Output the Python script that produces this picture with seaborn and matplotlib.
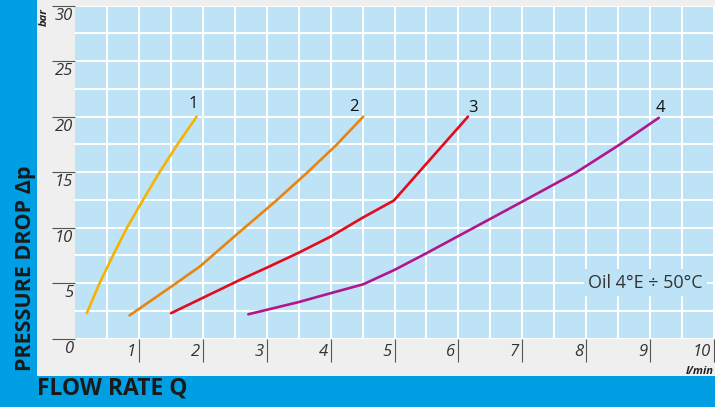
import numpy as np
import pandas as pd
import matplotlib.pyplot as plt
import matplotlib.transforms as mtransforms
from matplotlib.patches import Rectangle
import seaborn as sns

sns.set_theme(style='white')
plt.rcParams['font.family'] = ['Open Sans', 'DejaVu Sans']

# 数据：流量 Q (l/min) 与压降 Δp (bar)
curve_names = ['1', '2', '3', '4']
q1 = [0.18, 0.38, 0.59, 0.81, 1.06, 1.32, 1.60, 1.90]
p1 = [2.3, 5.0, 7.5, 10.0, 12.5, 15.0, 17.5, 20.0]
q2 = [0.85, 1.48, 1.95, 2.55, 3.12, 3.62, 4.08, 4.51]
p2 = [2.1, 4.6, 6.5, 9.5, 12.3, 14.9, 17.4, 20.0]
q3 = [1.50, 2.58, 3.00, 3.50, 4.00, 4.50, 4.99, 6.15]
p3 = [2.3, 5.3, 6.4, 7.75, 9.2, 10.9, 12.45, 20.0]
q4 = [2.71, 3.50, 4.00, 4.51, 5.00, 5.50, 6.34, 7.05, 7.85, 8.53, 9.14]
p4 = [2.2, 3.3, 4.1, 4.9, 6.2, 7.7, 10.3, 12.5, 15.0, 17.5, 19.9]
label_pos_q = [1.84, 4.37, 6.23, 9.17]
label_pos_p = [21.1, 20.9, 20.75, 20.75]
x_ticks = [1, 2, 3, 4, 5, 6, 7, 8, 9, 10]
y_ticks = [0, 5, 10, 15, 20, 25, 30]
note = 'Oil 4°E ÷ 50°C'

colors = ['#f4b400', '#e9850f', '#e30b1c', '#b2168b']
bg_blue = '#bee3f7'
frame_blue = '#009fe3'

df = pd.concat([
    pd.DataFrame({'Q': q, 'dp': p, 'curve': n})
    for q, p, n in zip([q1, q2, q3, q4], [p1, p2, p3, p4], curve_names)
])

fig = plt.figure(figsize=(7.15, 4.07), dpi=100)
fig.patch.set_facecolor(frame_blue)
W, H = 715, 407
fig.add_artist(Rectangle((37 / W, 1 - 376 / H), 1 - 37 / W, 376 / H,
                         transform=fig.transFigure, facecolor='#efefef',
                         edgecolor='none', zorder=-1))

ax = fig.add_axes([75.3 / W, 1 - 338.7 / H, 639.7 / W, 333 / H])
ax.set_facecolor(bg_blue)

sns.lineplot(data=df, x='Q', y='dp', hue='curve', palette=colors,
             sort=False, estimator=None, units='curve', legend=False,
             linewidth=1.9, ax=ax, zorder=3)

ax.set_xlim(0, 10.02)
ax.set_ylim(0, 30)
for s in ax.spines.values():
    s.set_visible(False)

# 网格
ax.set_xticks(x_ticks)
ax.set_xticks(np.arange(0.5, 10, 1.0), minor=True)
ax.set_yticks(y_ticks)
ax.set_yticks(np.arange(2.5, 30, 5), minor=True)
ax.grid(which='both', color='white', linewidth=1.4)
ax.set_axisbelow(True)
ax.tick_params(which='major', direction='out', length=16.5, width=0.8,
               color='#555555', labelbottom=False, labelleft=False,
               bottom=True, left=True)
ax.tick_params(which='minor', length=0)
ax.set_xlabel('')
ax.set_ylabel('')

# 刻度标签
ytr = mtransforms.offset_copy(ax.get_yaxis_transform(), fig=fig, x=-2, y=-10, units='dots')
for v in y_ticks:
    ax.text(0, v, str(v), transform=ytr, ha='right', va='center',
            fontsize=12, style='italic', color='#333333', clip_on=False)
xtr = mtransforms.offset_copy(ax.get_xaxis_transform(), fig=fig, x=-3, y=-13, units='dots')
for v in x_ticks:
    ax.text(v, 0, str(v), transform=xtr, ha='right', va='center',
            fontsize=12, style='italic', color='#333333', clip_on=False)

# 曲线编号
for n, q, p in zip(curve_names, label_pos_q, label_pos_p):
    ax.text(q, p, n, ha='center', va='center', fontsize=12, color='#111111')

ax.text(9.83, 5.05, note, ha='right', va='center', fontsize=13,
        color='#333333', zorder=4,
        bbox=dict(facecolor=bg_blue, edgecolor='none', pad=3))

fig.text(44 / W, 1 - 17 / H, 'bar', rotation=90, ha='center', va='center',
         fontsize=8, fontweight='bold', style='italic', color='#222222')
fig.text(714 / W, 1 - 371 / H, 'l/min', ha='right', va='center',
         fontsize=8, fontweight='bold', style='italic', color='#222222')
fig.text(25 / W, 1 - 268 / H, 'PRESSURE DROP Δp', rotation=90,
         ha='center', va='center', fontsize=15.5, fontweight='bold',
         color='#1a1a1a')
fig.text(37 / W, 1 - 389 / H, 'FLOW RATE Q', ha='left', va='center',
         fontsize=16.5, fontweight='bold', color='#1a1a1a')

fig.savefig('out.png', dpi=100, facecolor=fig.get_facecolor())
